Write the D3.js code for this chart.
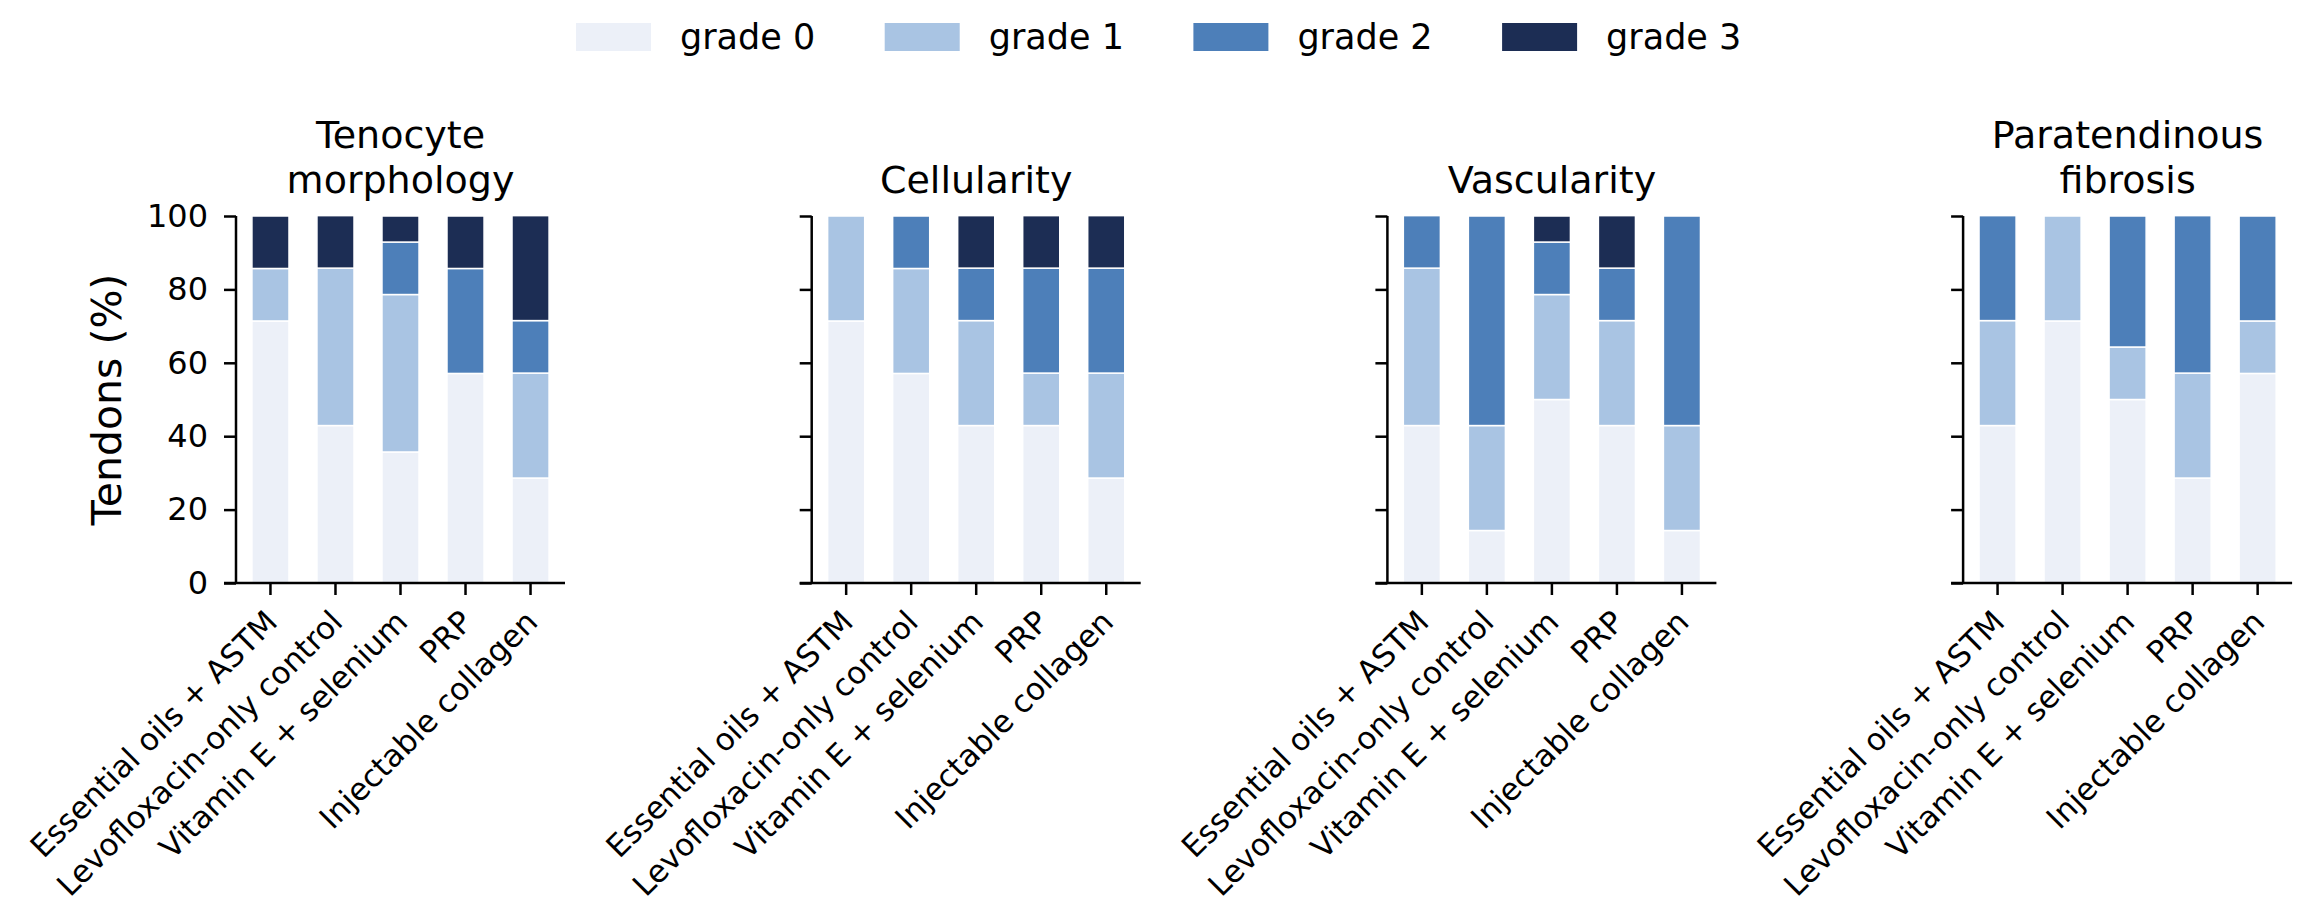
<!DOCTYPE html>
<html>
<head>
<meta charset="utf-8">
<script src="https://cdn.jsdelivr.net/npm/d3@7"></script>
<style>
  body { margin: 0; background: #fff; }
  text { font-family: "DejaVu Sans", sans-serif; fill: #000; }
</style>
</head>
<body>
<div id="chart"></div>
<script>
var width = 2317;
var height = 910;

// categories
var groups = ["Essential oils + ASTM", "Levofloxacin-only control", "Vitamin E + selenium", "PRP", "Injectable collagen"];
var grades = ["grade 0", "grade 1", "grade 2", "grade 3"];
var colors = ["#ecf0f8", "#a9c4e3", "#4d7fb9", "#1c2d54"];
var yTicks = [0, 20, 40, 60, 80, 100];

// % of tendons per grade [g0, g1, g2, g3] for each group
var tenocyte    = [[71.4, 14.3, 0, 14.3], [42.9, 42.9, 0, 14.3], [35.7, 42.9, 14.3, 7.1], [57.1, 0, 28.6, 14.3], [28.6, 28.6, 14.3, 28.6]];
var cellularity = [[71.4, 28.6, 0, 0], [57.1, 28.6, 14.3, 0], [42.9, 28.6, 14.3, 14.3], [42.9, 14.3, 28.6, 14.3], [28.6, 28.6, 28.6, 14.3]];
var vascularity = [[42.9, 42.9, 14.3, 0], [14.3, 28.6, 57.1, 0], [50.0, 28.6, 14.3, 7.1], [42.9, 28.6, 14.3, 14.3], [14.3, 28.6, 57.1, 0]];
var fibrosis    = [[42.9, 28.6, 28.6, 0], [71.4, 28.6, 0, 0], [50.0, 14.3, 35.7, 0], [28.6, 28.6, 42.9, 0], [57.1, 14.3, 28.6, 0]];

var panels = [
    {title: ["Tenocyte", "morphology"], values: tenocyte},
    {title: ["Cellularity"], values: cellularity},
    {title: ["Vascularity"], values: vascularity},
    {title: ["Paratendinous", "fibrosis"], values: fibrosis}
];

var svg = d3.select("#chart").append("svg")
    .attr("width", width)
    .attr("height", height);

var axLeft = 236, axStep = 575.7, axW = 329;
var axTop = 216, axBottom = 583;

var x = d3.scaleBand()
    .domain(groups)
    .range([0, axW])
    .paddingInner(0.43)
    .paddingOuter(0.245);

var y = d3.scaleLinear()
    .domain([0, 100])
    .range([axBottom - axTop, 0]);

var color = d3.scaleOrdinal().domain(grades).range(colors);

var stack = d3.stack()
    .keys(d3.range(grades.length))
    .value(function(d, k) { return d[k]; });

function drawPanel(p, i) {
    var g = svg.append("g")
        .attr("transform", "translate(" + (axLeft + i * axStep) + "," + axTop + ")");

    var series = stack(p.values);

    g.selectAll("g.layer")
        .data(series)
        .enter().append("g")
            .attr("class", "layer")
            .attr("fill", function(d) { return colors[d.key]; })
        .selectAll("rect")
        .data(function(d) { return d.map(function(v, j) { return {v: v, grp: groups[j]}; }); })
        .enter().append("rect")
            .filter(function(d) { return d.v[1] - d.v[0] > 0; })
            .attr("x", function(d) { return x(d.grp); })
            .attr("width", x.bandwidth())
            .attr("y", function(d) { return y(d.v[1]); })
            .attr("height", function(d) { return y(d.v[0]) - y(d.v[1]); })
            .attr("stroke", "#fff")
            .attr("stroke-width", 1.5);

    // y axis
    var yAxis = d3.axisLeft(y).tickValues(yTicks).tickSize(12).tickPadding(16);
    if (i > 0) yAxis.tickFormat("");
    var ya = g.append("g").call(yAxis);
    ya.select(".domain").attr("d", "M0," + y(100) + "V" + y(0));

    // x axis
    var xa = g.append("g")
        .attr("transform", "translate(0," + y(0) + ")")
        .call(d3.axisBottom(x).tickSize(12).tickFormat(""));
    xa.select(".domain").attr("d", "M-12,0H" + axW);

    g.selectAll(".domain, .tick line")
        .attr("stroke", "#000")
        .attr("stroke-width", 2.5);
    ya.selectAll(".tick text")
        .style("font-size", "32px")
        .style("font-family", "DejaVu Sans");

    // rotated category labels
    g.append("g").selectAll("text")
        .data(groups)
        .enter().append("text")
            .attr("transform", function(d) {
                return "translate(" + (x(d) + x.bandwidth() / 2 - 7) + "," + (y(0) + 25) + ") rotate(-45)";
            })
            .attr("text-anchor", "end")
            .attr("dy", "0.72em")
            .style("font-size", "31px")
            .text(function(d) { return d; });

    // title
    var n = p.title.length;
    g.append("text")
        .attr("text-anchor", "middle")
        .style("font-size", "38px")
        .selectAll("tspan")
        .data(p.title)
        .enter().append("tspan")
            .attr("x", axW / 2)
            .attr("y", function(d, k) { return -23 - (n - 1 - k) * 45; })
            .text(function(d) { return d; });
}

panels.forEach(drawPanel);

// y label
svg.append("text")
    .attr("transform", "translate(107," + ((axTop + axBottom) / 2) + ") rotate(-90)")
    .attr("text-anchor", "middle")
    .attr("dominant-baseline", "central")
    .style("font-size", "41px")
    .text("Tendons (%)");

// legend
var legend = svg.append("g").attr("transform", "translate(576,23)");
var item = legend.selectAll("g")
    .data(grades)
    .enter().append("g")
        .attr("transform", function(d, i) { return "translate(" + (i * 308.7) + ",0)"; });
item.append("rect")
    .attr("width", 75)
    .attr("height", 28)
    .attr("fill", function(d) { return color(d); });
item.append("text")
    .attr("x", 104)
    .attr("y", 14)
    .attr("dominant-baseline", "central")
    .style("font-size", "35px")
    .text(function(d) { return d; });
</script>
</body>
</html>
